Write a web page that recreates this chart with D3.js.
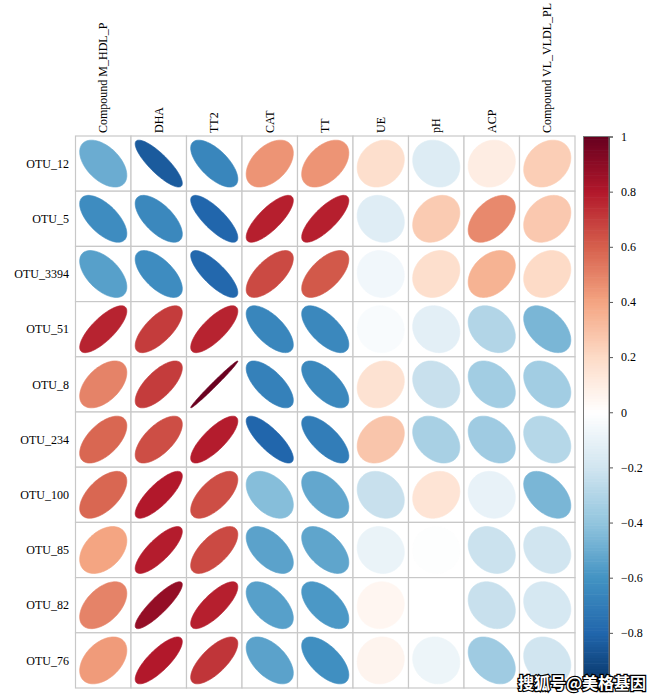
<!DOCTYPE html>
<html><head><meta charset="utf-8">
<script src="https://cdn.jsdelivr.net/npm/d3@7/dist/d3.min.js"></script>
<style>body{margin:0;background:#fff}</style>
</head><body><svg id="c" width="659" height="698"></svg>
<script>
const rowLabels = ["OTU_12","OTU_5","OTU_3394","OTU_51","OTU_8","OTU_234","OTU_100","OTU_85","OTU_82","OTU_76"];
const colLabels = ["Compound M_HDL_P","DHA","TT2","CAT","TT","UE","pH","ACP","Compound VL_VLDL_PL"];
const r_OTU_12   = [-0.50,-0.84,-0.66, 0.45, 0.45, 0.18,-0.15, 0.10, 0.25];
const r_OTU_5    = [-0.63,-0.65,-0.80, 0.78, 0.78,-0.14, 0.26, 0.48, 0.27];
const r_OTU_3394 = [-0.55,-0.63,-0.79, 0.66, 0.62,-0.06, 0.18, 0.35, 0.20];
const r_OTU_51   = [ 0.77, 0.70, 0.77,-0.66,-0.65,-0.03,-0.12,-0.30,-0.46];
const r_OTU_8    = [ 0.50, 0.70, 0.99,-0.68,-0.65, 0.16,-0.23,-0.35,-0.35];
const r_OTU_234  = [ 0.58, 0.65, 0.79,-0.80,-0.70, 0.28,-0.33,-0.36,-0.29];
const r_OTU_100  = [ 0.58, 0.80, 0.65,-0.43,-0.52,-0.23, 0.15,-0.10,-0.46];
const r_OTU_85   = [ 0.40, 0.79, 0.66,-0.54,-0.53,-0.09,-0.01,-0.22,-0.20];
const r_OTU_82   = [ 0.50, 0.88, 0.78,-0.55,-0.58, 0.05, 0.00,-0.23,-0.18];
const r_OTU_76   = [ 0.43, 0.80, 0.72,-0.54,-0.62, 0.06,-0.08,-0.36,-0.20];
const matrix = [r_OTU_12,r_OTU_5,r_OTU_3394,r_OTU_51,r_OTU_8,r_OTU_234,r_OTU_100,r_OTU_85,r_OTU_82,r_OTU_76];
const legendTicks = [1,0.8,0.6,0.4,0.2,0,-0.2,-0.4,-0.6,-0.8];
const paletteStops = [-1,-0.8,-0.6,-0.4,-0.2,0,0.2,0.4,0.6,0.8,1];
const paletteColors = ["#053061","#2166AC","#4393C3","#92C5DE","#D1E5F0","#FFFFFF","#FDDBC7","#F4A582","#D6604D","#B2182B","#67001F"];

const svg = d3.select("#c");
const color = d3.scaleLinear().domain(paletteStops).range(paletteColors).interpolate(d3.interpolateRgb);
const x = d3.scaleBand().domain(colLabels).range([75.5, 575]);
const y = d3.scaleBand().domain(rowLabels).range([136, 688]);
const serif = "'Liberation Serif','Times New Roman',serif";

// cells
const cells = [];
matrix.forEach((row,i)=>row.forEach((v,j)=>cells.push({r:rowLabels[i],c:colLabels[j],v})));
const g = svg.append("g");
g.selectAll("rect.cell").data(cells).join("rect")
  .attr("x",d=>x(d.c)).attr("y",d=>y(d.r)).attr("width",x.bandwidth()).attr("height",y.bandwidth())
  .attr("fill","#fff").attr("stroke","#c8c8c8").attr("stroke-width",1.2);

function ellipse(rho, cx, cy, w, h){
  const a = Math.acos(Math.max(-1,Math.min(1,rho)));
  const pts = d3.range(99).map(i=>{
    const k = 2*Math.PI*i/98;
    return [cx + 0.85*w*Math.cos(k + a/2)/2, cy - 0.85*h*Math.cos(k - a/2)/2];
  });
  return d3.line()(pts)+"Z";
}
g.selectAll("path.ell").data(cells).join("path")
  .attr("d",d=>ellipse(d.v, x(d.c)+x.bandwidth()/2, y(d.r)+y.bandwidth()/2, x.bandwidth(), y.bandwidth()))
  .attr("fill",d=>color(d.v)).attr("stroke",d=>color(d.v)).attr("stroke-width",0.6);

// labels
svg.append("g").selectAll("text").data(rowLabels).join("text")
  .attr("x",69).attr("y",d=>y(d)+y.bandwidth()/2).attr("dy","0.35em")
  .attr("text-anchor","end").attr("font-family",serif).attr("font-size",12).text(d=>d);
svg.append("g").selectAll("text").data(colLabels).join("text")
  .attr("transform",d=>`translate(${x(d)+x.bandwidth()/2},133) rotate(-90)`).attr("dy","0.35em")
  .attr("text-anchor","start").attr("font-family",serif).attr("font-size",12).text(d=>d);

// color legend
const ly = d3.scaleLinear().domain([-1,1]).range([688,136.5]);
const lg = svg.append("g");
const steps = d3.range(200).map(i=>-1+ (i+0.5)*2/200);
lg.selectAll("rect").data(steps).join("rect")
  .attr("x",583.5).attr("width",25.5)
  .attr("y",d=>ly(d+1/200)).attr("height",d=>ly(d-1/200)-ly(d+1/200)+0.6)
  .attr("fill",d=>color(d));
lg.append("rect").attr("x",583.5).attr("y",136.5).attr("width",25.5).attr("height",688-136.5)
  .attr("fill","none").attr("stroke","#777").attr("stroke-width",1);
const axis = d3.axisRight(ly).tickValues(legendTicks.concat([-1])).tickSize(4).tickPadding(8)
  .tickFormat(d=>d===-1?"":(d===1?"1":(d===0?"0":d3.format(".1f")(d).replace("-","\u2212"))));
const ag = lg.append("g").attr("transform","translate(609,0)").call(axis);
ag.select(".domain").attr("stroke","#555");
ag.selectAll(".tick line").attr("stroke","#555");
ag.selectAll(".tick text").attr("font-family",serif).attr("font-size",12).attr("fill","#000");

// watermark
svg.append("text").attr("x",518).attr("y",689).attr("font-family","'Noto Sans CJK SC',sans-serif")
  .attr("font-size",16).attr("font-weight","bold").attr("fill","#fff").attr("stroke","#000")
  .attr("stroke-width",2.5).attr("paint-order","stroke").text("搜狐号@美格基因");
</script></body></html>
